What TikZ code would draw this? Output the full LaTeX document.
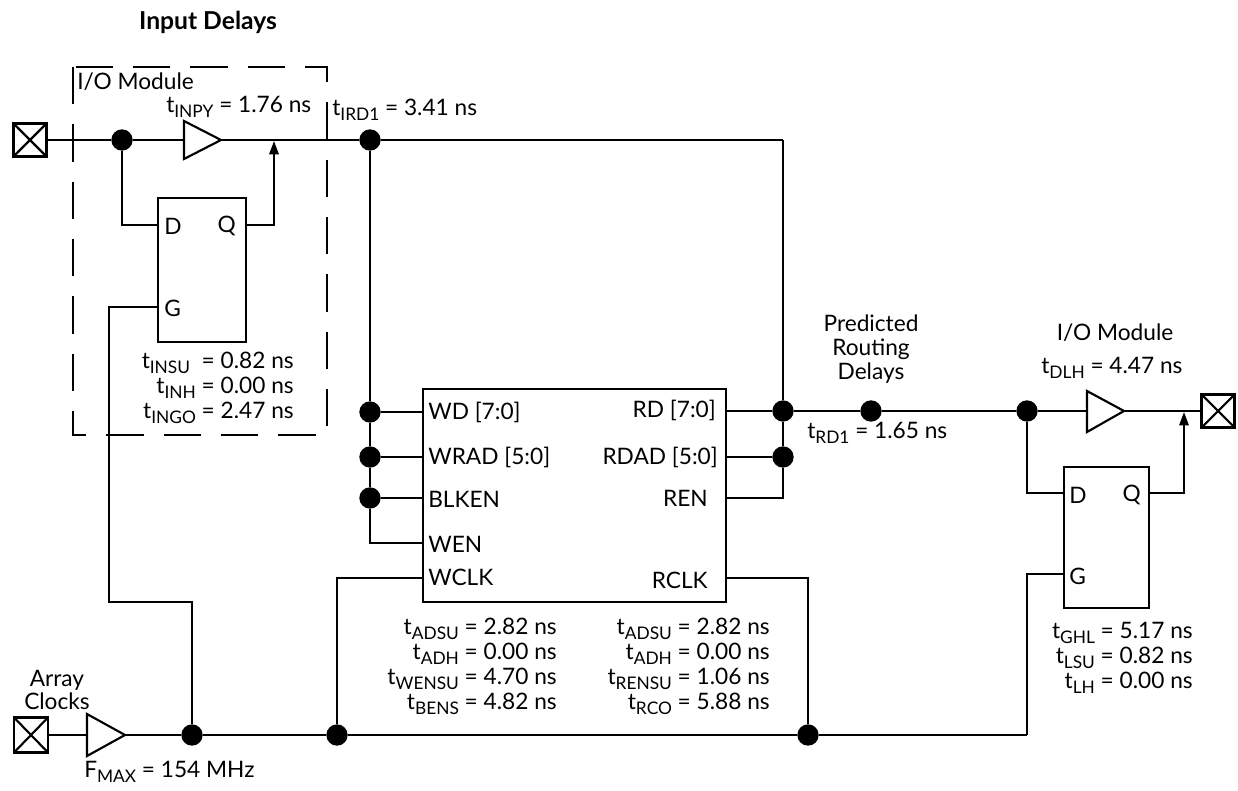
\documentclass[tikz,border=0pt]{standalone}
\usepackage{fontspec}
\setmainfont{Lato}
\usetikzlibrary{arrows.meta}
\newcommand{\tsb}[2]{#1\raisebox{-0.45ex}{\fontsize{13}{14}\selectfont #2}}
\begin{document}
\begin{tikzpicture}[x=0.75pt,y=-0.75pt,
  wire/.style={line width=1.6pt},
  dot/.style={circle, fill=black, inner sep=0pt, minimum size=16pt},
  pad/.style={draw, line width=1.6pt, minimum size=24.75pt, inner sep=0pt,
    path picture={\draw[line width=1.6pt] (path picture bounding box.south west) -- (path picture bounding box.north east)
      (path picture bounding box.north west) -- (path picture bounding box.south east);}},
  blk/.style={draw, line width=1.6pt, inner sep=0pt, anchor=north west},
  lbl/.style={inner sep=0pt, font=\fontsize{17}{17.8}\selectfont},
  tbl/.style={inner sep=0pt, align=right, anchor=north east, font=\fontsize{17}{18.6}\selectfont},
  buf/.style={draw, line width=1.6pt, fill=white, line join=miter},
  arr/.style={wire, -{Triangle[length=10pt,width=7pt]}},
  dbox/.style={line width=1.6pt, dash pattern=on 28pt off 15pt}
]
\useasboundingbox (0,0) rectangle (1238,791);

% ---------- title and input I/O module ----------
\node[inner sep=0pt, font=\fontsize{18.5}{20}\selectfont\bfseries] (title) at (208,22) {Input Delays};
\draw[dbox] (73,67) rectangle (327,435);
\node[lbl, anchor=west] (iomIn) at (77,82) {I/O Module};

\node[pad] (padIn) at (30,140) {};
\node[dot] (jIn) at (122,140) {};
\coordinate (b1in) at (184,140);
\coordinate (b1out) at (221,140);
\draw[buf] (184,121) -- (184,159) -- (b1out) -- cycle;
\node[lbl, anchor=west] (tinpy) at (166,107) {\tsb{t}{INPY} = 1.76 ns};
\node[lbl, anchor=west] (tird) at (332,110) {\tsb{t}{IRD1} = 3.41 ns};

\node[blk, minimum width=66pt, minimum height=108pt] (ffIn) at (157,197) {};
\node[lbl, anchor=west] (ffInD) at (164,226) {D};
\node[lbl, anchor=east] (ffInQ) at (236,226) {Q};
\node[lbl, anchor=west] (ffInG) at (164,308) {G};
\coordinate (ffInDp) at (157,225);
\coordinate (ffInQp) at (245,225);
\coordinate (ffInGp) at (157,307);
\coordinate (arrIn) at (274,141);

\node[tbl] (tIn) at (294,352)
  {\tsb{t}{INSU}\ \ = 0.82 ns\\ \tsb{t}{INH} = 0.00 ns\\ \tsb{t}{INGO} = 2.47 ns};

\node[dot] (jIrd) at (370,140) {};
\coordinate (cTR) at (783,140);

\draw[wire] (padIn) -- (jIn) -- (b1in);
\draw[wire] (b1out) -- (jIrd) -- (cTR);
\draw[wire] (jIn) |- (ffInDp);
\draw[arr] (ffInQp) -| (arrIn);

% ---------- RAM block ----------
\node[blk, minimum width=227.25pt, minimum height=159.75pt] (ram) at (422,388) {};
\node[lbl, anchor=west] (lWD) at (428,412) {WD [7:0]};
\node[lbl, anchor=west] (lWRAD) at (428,457) {WRAD [5:0]};
\node[lbl, anchor=west] (lBLK) at (428,499) {BLKEN};
\node[lbl, anchor=west] (lWEN) at (428,544) {WEN};
\node[lbl, anchor=west] (lWCLK) at (428,577) {WCLK};
\node[lbl, anchor=east] (lRD) at (716,410) {RD [7:0]};
\node[lbl, anchor=east] (lRDAD) at (718,457) {RDAD [5:0]};
\node[lbl, anchor=east] (lREN) at (708,498) {REN};
\node[lbl, anchor=east] (lRCLK) at (708,580) {RCLK};

\coordinate (pWD) at (422,412);
\coordinate (pWRAD) at (422,457);
\coordinate (pBLK) at (422,498);
\coordinate (pWEN) at (422,543);
\coordinate (pWCLK) at (422,578);
\coordinate (pRD) at (725,411);
\coordinate (pRDAD) at (725,457);
\coordinate (pREN) at (725,498);
\coordinate (pRCLK) at (725,578);

\node[dot] (jWD) at (370,412) {};
\node[dot] (jWRAD) at (370,457) {};
\node[dot] (jBLK) at (370,498) {};
\node[dot] (jRD) at (783,411) {};
\node[dot] (jRDAD) at (783,457) {};

\draw[wire] (jIrd) -- (jWD) -- (jWRAD) -- (jBLK) |- (pWEN);
\draw[wire] (jWD) -- (pWD);
\draw[wire] (jWRAD) -- (pWRAD);
\draw[wire] (jBLK) -- (pBLK);
\draw[wire] (cTR) -- (jRD) -- (jRDAD) |- (pREN);
\draw[wire] (pRD) -- (jRD);
\draw[wire] (pRDAD) -- (jRDAD);

\node[tbl] (tW) at (557,618)
  {\tsb{t}{ADSU} = 2.82 ns\\ \tsb{t}{ADH} = 0.00 ns\\ \tsb{t}{WENSU} = 4.70 ns\\ \tsb{t}{BENS} = 4.82 ns};
\node[tbl] (tR) at (770,618)
  {\tsb{t}{ADSU} = 2.82 ns\\ \tsb{t}{ADH} = 0.00 ns\\ \tsb{t}{RENSU} = 1.06 ns\\ \tsb{t}{RCO} = 5.88 ns};

% ---------- clock ----------
\node[pad, minimum width=25.5pt, minimum height=26.25pt] (padClk) at (31,735) {};
\coordinate (b2in) at (87,735);
\coordinate (b2out) at (125,735);
\draw[buf] (87,714) -- (87,756) -- (b2out) -- cycle;
\node[lbl, align=center] (arrclk) at (57,690) {Array\\Clocks};
\node[lbl, anchor=west] (fmax) at (84,772) {\tsb{F}{MAX} = 154 MHz};

\node[dot] (jC1) at (192,735) {};
\node[dot] (jC2) at (337,735) {};
\node[dot] (jC3) at (808,735) {};
\coordinate (cClkEnd) at (1027,735);
\coordinate (cG1) at (109,307);
\coordinate (cG2) at (109,602);
\coordinate (cG3) at (192,602);

\draw[wire] (padClk) -- (b2in);
\draw[wire] (b2out) -- (jC1) -- (jC2) -- (jC3) -- (cClkEnd);
\draw[wire] (ffInGp) -- (cG1) -- (cG2) -- (cG3) -- (jC1);
\draw[wire] (pWCLK) -| (jC2);
\draw[wire] (pRCLK) -| (jC3);

% ---------- output side ----------
\node[lbl, align=center, font=\fontsize{17}{18}\selectfont] (pred) at (871,349) {Predicted\\Routing\\Delays};
\node[dot] (jR1) at (871,411) {};
\node[dot] (jR2) at (1027,411) {};
\node[lbl, anchor=west] (trd) at (807,433) {\tsb{t}{RD1} = 1.65 ns};

\node[lbl] (iomOut) at (1115,333) {I/O Module};
\node[lbl, anchor=west] (tdlh) at (1041,368) {\tsb{t}{DLH} = 4.47 ns};
\coordinate (b3in) at (1087,411);
\coordinate (b3out) at (1124,411);
\draw[buf] (1087,391) -- (1087,432) -- (b3out) -- cycle;
\node[pad] (padOut) at (1218,411) {};
\coordinate (arrOut) at (1184,412);

\node[blk, minimum width=63.75pt, minimum height=105.75pt] (ffOut) at (1063,466) {};
\node[lbl, anchor=west] (ffOutD) at (1069,495) {D};
\node[lbl, anchor=east] (ffOutQ) at (1141,495) {Q};
\node[lbl, anchor=west] (ffOutG) at (1069,576) {G};
\coordinate (ffOutDp) at (1063,493);
\coordinate (ffOutQp) at (1148,493);
\coordinate (ffOutGp) at (1063,574);

\node[tbl] (tOut) at (1193,622)
  {\tsb{t}{GHL} = 5.17 ns\\ \tsb{t}{LSU} = 0.82 ns\\ \tsb{t}{LH} = 0.00 ns};

\draw[wire] (jRD) -- (jR1) -- (jR2) -- (b3in);
\draw[wire] (b3out) -- (padOut);
\draw[wire] (jR2) |- (ffOutDp);
\draw[arr] (ffOutQp) -| (arrOut);
\draw[wire] (cClkEnd) |- (ffOutGp);
\end{tikzpicture}
\end{document}
